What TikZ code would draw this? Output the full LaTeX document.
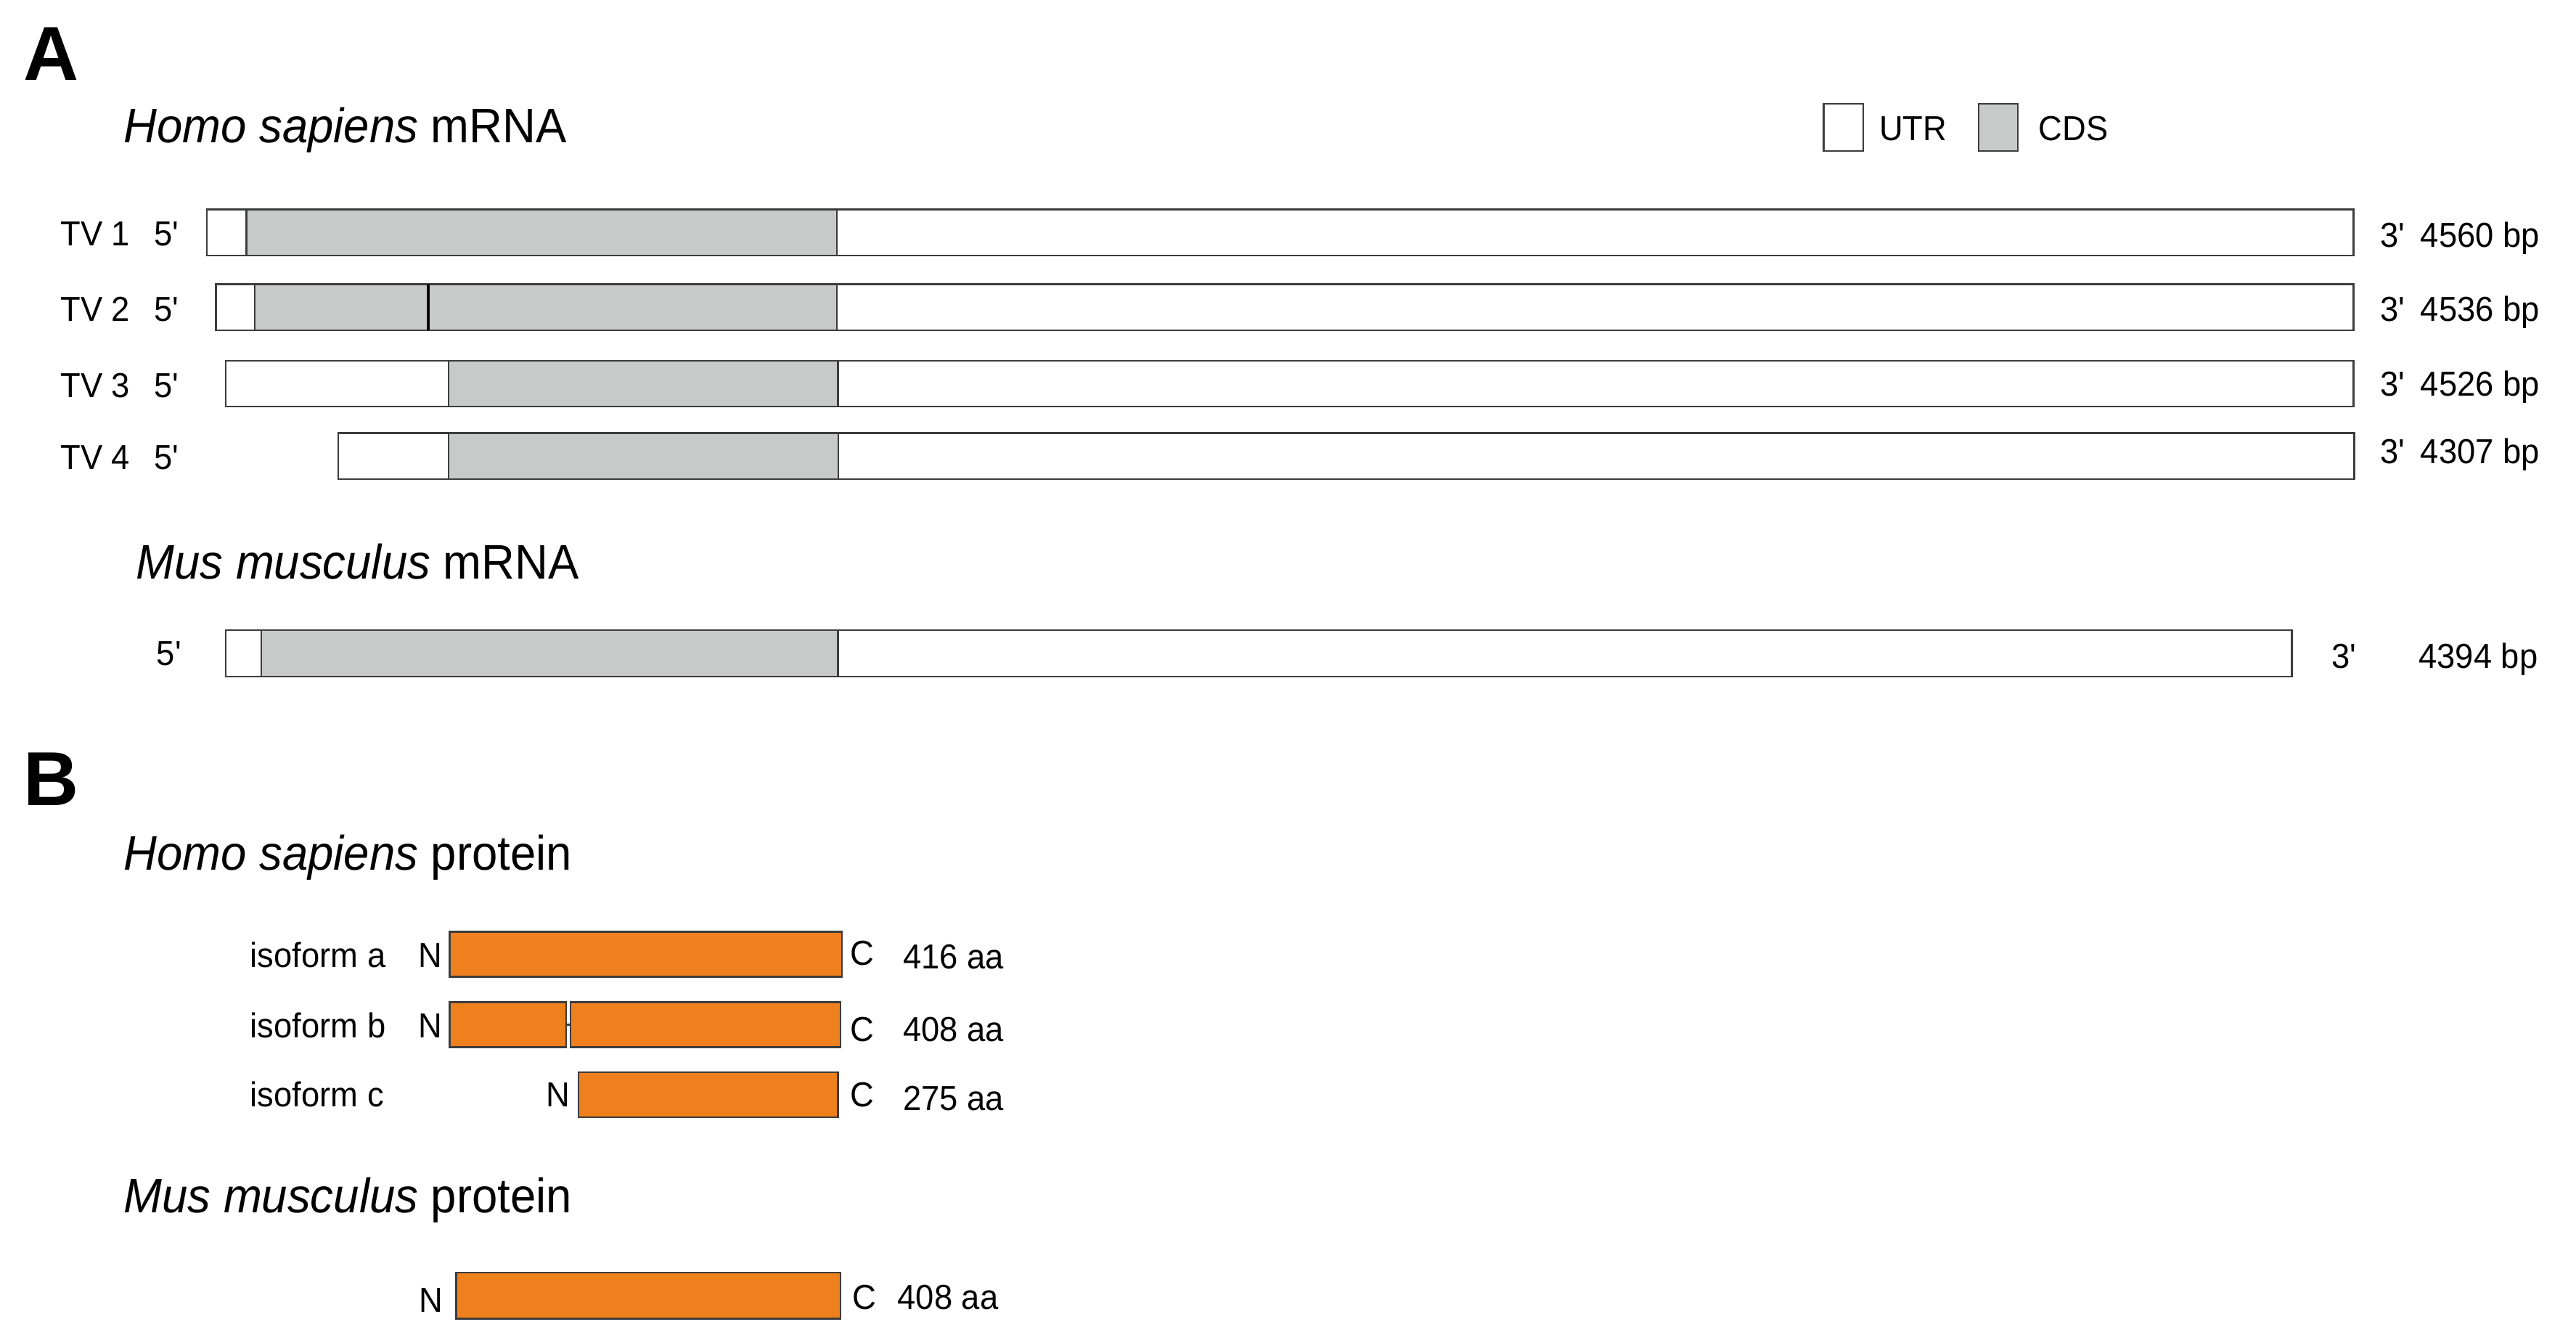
\documentclass[tikz,border=0pt]{standalone}
\usepackage{fontspec}
\setmainfont{Liberation Sans}[FakeStretch=0.95]
\newfontfamily\panelfont{Liberation Sans}
\newcommand{\pr}{\textquotesingle}
\definecolor{cdsgray}{HTML}{C8C9C9}
\definecolor{protorange}{HTML}{EE801E}
\definecolor{edgegray}{HTML}{3C3C3C}
\tikzset{
    utr/.style={draw=edgegray,fill=white,line width=0.6pt},
    cds/.style={draw=edgegray,fill=cdsgray,line width=0.6pt},
    prot/.style={draw=edgegray,fill=protorange,line width=0.6pt},
    lab/.style={inner sep=0pt,anchor=base west,font=\fontsize{12}{14}\selectfont},
    ttl/.style={inner sep=0pt,anchor=base west,font=\fontsize{16.8}{19}\selectfont},
    panel/.style={inner sep=0pt,anchor=base west,font=\panelfont\fontsize{26.5}{30}\selectfont\bfseries}
}
\begin{document}
\begin{tikzpicture}[x=0.2mm,y=-0.2mm]
        \useasboundingbox (0,0) rectangle (1568,817);

        \node[panel] (pa) at (14,49){A};
        \node[ttl] (hsrna) at (75,87){\textit{Homo sapiens} mRNA};

        \draw[utr] (1110,63.2) rectangle (1134.2,91.8);
        \node[lab] (utrkey) at (1143.5,85.7){UTR};
        \draw[cds] (1204.5,63.2) rectangle (1228.1,91.8);
        \node[lab] (cdskey) at (1240.6,85.7){CDS};

        \draw[utr] (126,127.5) rectangle (1432.5,155.5);
        \draw[cds] (150,127.5) rectangle (509.5,155.5);
        \node[lab] (tv1) at (36.5,149.7){TV 1};
        \node[lab] (tv1five) at (93.5,149.7){5\pr};
        \node[lab] (tv1three) at (1448.5,150.4){3\pr};
        \node[lab] (tv1len) at (1473,150.4){4560 bp};

        \draw[utr] (131.5,173) rectangle (1432.5,201);
        \draw[cds] (155,173) rectangle (509.5,201);
        \draw[black,line width=1pt] (260.5,173) -- (260.5,201);
        \node[lab] (tv2) at (36.5,195.3){TV 2};
        \node[lab] (tv2five) at (93.5,195.3){5\pr};
        \node[lab] (tv2three) at (1448.5,195.4){3\pr};
        \node[lab] (tv2len) at (1473,195.4){4536 bp};

        \draw[utr] (137.5,219.5) rectangle (1432.5,247.5);
        \draw[cds] (273,219.5) rectangle (510,247.5);
        \node[lab] (tv3) at (36.5,241.7){TV 3};
        \node[lab] (tv3five) at (93.5,241.7){5\pr};
        \node[lab] (tv3three) at (1448.5,241.2){3\pr};
        \node[lab] (tv3len) at (1473,241.2){4526 bp};

        \draw[utr] (206,263.5) rectangle (1433,291.5);
        \draw[cds] (273,263.5) rectangle (510.3,291.5);
        \node[lab] (tv4) at (36.5,285.6){TV 4};
        \node[lab] (tv4five) at (93.5,285.6){5\pr};
        \node[lab] (tv4three) at (1448.5,282.1){3\pr};
        \node[lab] (tv4len) at (1473,282.1){4307 bp};

        \node[ttl] (mmrna) at (82.5,352.5){\textit{Mus musculus} mRNA};

        \draw[utr] (137.5,383.6) rectangle (1395,411.9);
        \draw[cds] (159,383.6) rectangle (510,411.9);
        \node[lab] (mmfive) at (95,405){5\pr};
        \node[lab] (mmthree) at (1419,406.5){3\pr};
        \node[lab] (mmlen) at (1472,406.5){4394 bp};

        \node[panel] (pb) at (14,490){B};
        \node[ttl] (hsprot) at (75,529.4){\textit{Homo sapiens} protein};

        \draw[prot] (273.7,567) rectangle (512.6,594.4);
        \node[lab] (isoa) at (152,588.6){isoform a};
        \node[lab] (isoan) at (254.3,588.6){N};
        \node[lab] (isoac) at (517.3,587.6){C};
        \node[lab] (isoalen) at (549.3,589.6){416 aa};

        \draw[prot] (273.7,610) rectangle (344.7,637.4);
        \draw[prot] (347.3,610) rectangle (511.6,637.4);
        \coordinate (isobcut) at (344.7,623.7);
        \coordinate (isobjoin) at (347.3,623.7);
        \draw[edgegray,line width=0.6pt] (isobcut) -- (isobjoin);
        \node[lab] (isob) at (152,631.6){isoform b};
        \node[lab] (isobn) at (254.3,631.6){N};
        \node[lab] (isobc) at (517.3,633.6){C};
        \node[lab] (isoblen) at (549.3,633.6){408 aa};

        \draw[prot] (352.1,652.5) rectangle (510,679.9);
        \node[lab] (isoc) at (152,673.6){isoform c};
        \node[lab] (isocn) at (332,673.6){N};
        \node[lab] (isocc) at (517.3,673.6){C};
        \node[lab] (isoclen) at (549.3,675.6){275 aa};

        \node[ttl] (mmprot) at (75,738){\textit{Mus musculus} protein};

        \draw[prot] (277.6,774.5) rectangle (511.6,802.5);
        \node[lab] (mmn) at (255,798.6){N};
        \node[lab] (mmc) at (518.5,796.6){C};
        \node[lab] (mmplen) at (546,796.6){408 aa};
    \end{tikzpicture}
\end{document}
